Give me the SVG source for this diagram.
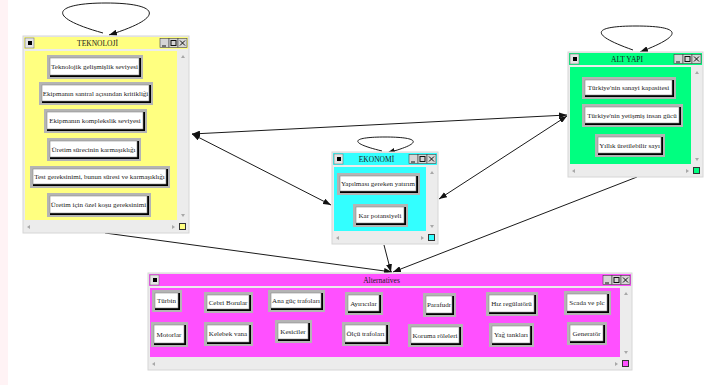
<svg xmlns="http://www.w3.org/2000/svg" width="705" height="385" viewBox="0 0 705 385">
<style>
.frame{fill:#ececec;stroke:#d6d6d6;stroke-width:1}
.yel{fill:#ffff80}.grn{fill:#00ff80}.cyn{fill:#33ffff}.mag{fill:#ff50ff}
.cs{stroke:#333;stroke-width:1}
.ic{fill:#e4e4e4;stroke:#777;stroke-width:.6}
.tb{fill:#d6d6d6;stroke:#444;stroke-width:.6}
.tg{stroke:#111;stroke-width:1;fill:none}
.sa{fill:#a8a8a8}
.bf{fill:#b4b4b4}.bs{fill:#000}.bw{fill:#fff;stroke:#8c8c8c;stroke-width:.6}
text{font-family:"Liberation Serif","Times New Roman",serif;fill:#222}
.bt{font-size:7px;text-anchor:middle}
.tt{font-size:7.5px;text-anchor:middle;fill:#1a1a1a}
.edge{stroke:#1a1a1a;stroke-width:1;fill:none}
</style>
<defs>
<marker id="ah" viewBox="0 0 8 6" refX="8" refY="3" markerWidth="8" markerHeight="6" markerUnits="userSpaceOnUse" orient="auto-start-reverse"><path d="M0,0 L8,3 L0,6 z" fill="#111"/></marker>
</defs>
<rect x="0" y="0" width="705" height="385" fill="#fff"/>
<rect x="0" y="0" width="8" height="385" fill="#fff3f5"/>

<g id="connectors">
<path class="edge" d="M103,33 C42,16 56,3 106,3 C156,3 170,16 109,35" marker-end="url(#ah)"/>
<path class="edge" d="M633,50 C585,33 596,26 636,26 C676,26 690,33 640,52" marker-end="url(#ah)"/>
<path class="edge" d="M382,151 C345,142 354,137 385,137 C416,137 428,142 387,153" marker-end="url(#ah)"/>
<line class="edge" x1="192" y1="134" x2="567" y2="115" marker-start="url(#ah)" marker-end="url(#ah)"/>
<line class="edge" x1="192" y1="134" x2="331" y2="205" marker-start="url(#ah)" marker-end="url(#ah)"/>
<line class="edge" x1="567" y1="116" x2="439" y2="199" marker-start="url(#ah)" marker-end="url(#ah)"/>
<line class="edge" x1="105" y1="233" x2="392" y2="272" marker-end="url(#ah)"/>
<line class="edge" x1="384" y1="245" x2="391" y2="272" marker-end="url(#ah)"/>
<line class="edge" x1="637" y1="177" x2="393" y2="272" marker-end="url(#ah)"/>
</g>

<g id="teknoloji">
<rect class="frame" x="23" y="36" width="166" height="197"/>
<rect class="yel" x="24" y="37" width="164" height="12"/>
<rect class="yel" x="25" y="51" width="152" height="169"/>
<rect class="yel cs" x="179.5" y="223.5" width="6" height="6"/>
<rect class="ic" x="25" y="38" width="9" height="10"/><rect x="28" y="41" width="4" height="4" fill="#000"/>
<rect class="tb" x="160" y="38.5" width="9" height="9"/><line class="tg" x1="162" y1="46" x2="166" y2="46"/>
<rect class="tb" x="169" y="38.5" width="9" height="9"/><rect class="tg" x="171" y="40.5" width="5" height="5"/>
<rect class="tb" x="178" y="38.5" width="9" height="9"/><path class="tg" d="M180,40.5 L185,45.5 M185,40.5 L180,45.5"/>
<text class="tt" x="97.5" y="46">TEKNOLOJİ</text>
<polygon class="sa" points="181,58 185,58 183,55"/><polygon class="sa" points="181,214 185,214 183,217"/>
<polygon class="sa" points="30,225 30,229 27,227"/><polygon class="sa" points="172,225 172,229 175,227"/>
<g id="t1"><rect class="bf" x="47" y="55" width="96" height="24"/><rect class="bs" x="50" y="58" width="91" height="19"/><rect class="bw" x="50" y="58" width="89" height="17"/><text class="bt" x="94.5" y="69">Teknolojik gelişmişlik seviyesi</text></g>
<g id="t2"><rect class="bf" x="39" y="82" width="114" height="23"/><rect class="bs" x="42" y="85" width="109" height="18"/><rect class="bw" x="42" y="85" width="107" height="16"/><text class="bt" x="95.5" y="95.5">Ekipmanın santral açısından kritikliği</text></g>
<g id="t3"><rect class="bf" x="44" y="109" width="103" height="24"/><rect class="bs" x="47" y="112" width="98" height="19"/><rect class="bw" x="47" y="112" width="96" height="17"/><text class="bt" x="95" y="123">Ekipmanın komplekslik seviyesi</text></g>
<g id="t4"><rect class="bf" x="47" y="138" width="94" height="23"/><rect class="bs" x="50" y="141" width="89" height="18"/><rect class="bw" x="50" y="141" width="87" height="16"/><text class="bt" x="93.5" y="151.5">Üretim sürecinin karmaşıklığı</text></g>
<g id="t5"><rect class="bf" x="30" y="166" width="140" height="22"/><rect class="bs" x="33" y="169" width="135" height="17"/><rect class="bw" x="33" y="169" width="133" height="15"/><text class="bt" x="99.5" y="179">Test gereksinimi, bunun süresi ve karmaşıklığı</text></g>
<g id="t6"><rect class="bf" x="47" y="193" width="104" height="24"/><rect class="bs" x="50" y="196" width="99" height="19"/><rect class="bw" x="50" y="196" width="97" height="17"/><text class="bt" x="98.5" y="207">Üretim için özel koşu gereksinimi</text></g>
</g>

<g id="altyapi">
<rect class="frame" x="568" y="52" width="135" height="125"/>
<rect class="grn" x="569" y="53" width="133" height="12"/>
<rect class="grn" x="570" y="67" width="121" height="97"/>
<rect class="grn cs" x="693.5" y="167.5" width="6" height="6"/>
<rect class="ic" x="570" y="54" width="9" height="10"/><rect x="573" y="57" width="4" height="4" fill="#000"/>
<rect class="tb" x="674" y="54.5" width="9" height="9"/><line class="tg" x1="676" y1="62" x2="680" y2="62"/>
<rect class="tb" x="683" y="54.5" width="9" height="9"/><rect class="tg" x="685" y="56.5" width="5" height="5"/>
<rect class="tb" x="692" y="54.5" width="9" height="9"/><path class="tg" d="M694,56.5 L699,61.5 M699,56.5 L694,61.5"/>
<text class="tt" x="627" y="62">ALT YAPI</text>
<polygon class="sa" points="695,74 699,74 697,71"/><polygon class="sa" points="695,158 699,158 697,161"/>
<polygon class="sa" points="575,169 575,173 572,171"/><polygon class="sa" points="686,169 686,173 689,171"/>
<g id="a1"><rect class="bf" x="582" y="77" width="94" height="22"/><rect class="bs" x="585" y="80" width="89" height="17"/><rect class="bw" x="585" y="80" width="87" height="15"/><text class="bt" x="628.5" y="90">Türkiye'nin sanayi kapasitesi</text></g>
<g id="a2"><rect class="bf" x="582" y="104" width="101" height="23"/><rect class="bs" x="585" y="107" width="96" height="18"/><rect class="bw" x="585" y="107" width="94" height="16"/><text class="bt" x="632" y="117.5">Türkiye'nin yetişmiş insan gücü</text></g>
<g id="a3"><rect class="bf" x="595" y="134" width="70" height="23"/><rect class="bs" x="598" y="137" width="65" height="18"/><rect class="bw" x="598" y="137" width="63" height="16"/><text class="bt" x="629.5" y="147.5">Yıllık üretilebilir sayı</text></g>
</g>

<g id="ekonomi">
<rect class="frame" x="332" y="152" width="106" height="92"/>
<rect class="cyn" x="333" y="153" width="104" height="12"/>
<rect class="cyn" x="334" y="167" width="92" height="64"/>
<rect class="cyn cs" x="428.5" y="234.5" width="6" height="6"/>
<rect class="ic" x="334" y="154" width="9" height="10"/><rect x="337" y="157" width="4" height="4" fill="#000"/>
<rect class="tb" x="409" y="154.5" width="9" height="9"/><line class="tg" x1="411" y1="162" x2="415" y2="162"/>
<rect class="tb" x="418" y="154.5" width="9" height="9"/><rect class="tg" x="420" y="156.5" width="5" height="5"/>
<rect class="tb" x="427" y="154.5" width="9" height="9"/><path class="tg" d="M429,156.5 L434,161.5 M434,156.5 L429,161.5"/>
<text class="tt" x="376.5" y="162">EKONOMİ</text>
<polygon class="sa" points="430,174 434,174 432,171"/><polygon class="sa" points="430,225 434,225 432,228"/>
<polygon class="sa" points="339,236 339,240 336,238"/><polygon class="sa" points="421,236 421,240 424,238"/>
<g id="e1"><rect class="bf" x="337" y="173" width="83" height="22"/><rect class="bs" x="340" y="176" width="78" height="17"/><rect class="bw" x="340" y="176" width="76" height="15"/><text class="bt" x="378" y="186">Yapılması gereken yatırım</text></g>
<g id="e2"><rect class="bf" x="353" y="204" width="55" height="23"/><rect class="bs" x="356" y="207" width="50" height="18"/><rect class="bw" x="356" y="207" width="48" height="16"/><text class="bt" x="380" y="217.5">Kar potansiyeli</text></g>
</g>

<g id="alternatives">
<rect class="frame" x="148" y="273" width="484" height="97"/>
<rect class="mag" x="149" y="274" width="482" height="12"/>
<rect class="mag" x="150" y="288" width="470" height="69"/>
<rect class="mag cs" x="622.5" y="360.5" width="6" height="6"/>
<rect class="ic" x="150" y="275" width="9" height="10"/><rect x="153" y="278" width="4" height="4" fill="#000"/>
<rect class="tb" x="603" y="275.5" width="9" height="9"/><line class="tg" x1="605" y1="283" x2="609" y2="283"/>
<rect class="tb" x="612" y="275.5" width="9" height="9"/><rect class="tg" x="614" y="277.5" width="5" height="5"/>
<rect class="tb" x="621" y="275.5" width="9" height="9"/><path class="tg" d="M623,277.5 L628,282.5 M628,277.5 L623,282.5"/>
<text class="tt" x="381.5" y="283">Alternatives</text>
<polygon class="sa" points="624,295 628,295 626,292"/><polygon class="sa" points="624,351 628,351 626,354"/>
<polygon class="sa" points="155,362 155,366 152,364"/><polygon class="sa" points="615,362 615,366 618,364"/>
<g id="n-turbin"><rect class="bf" x="152" y="290" width="30" height="22"/><rect class="bs" x="155" y="293" width="25" height="17"/><rect class="bw" x="155" y="293" width="23" height="15"/><text class="bt" x="166.5" y="303">Türbin</text></g>
<g id="n-cebri"><rect class="bf" x="204" y="292" width="49" height="21"/><rect class="bs" x="207" y="295" width="44" height="16"/><rect class="bw" x="207" y="295" width="42" height="14"/><text class="bt" x="228" y="304.5">Cebri Borular</text></g>
<g id="n-anaguc"><rect class="bf" x="268" y="290" width="57" height="22"/><rect class="bs" x="271" y="293" width="52" height="17"/><rect class="bw" x="271" y="293" width="50" height="15"/><text class="bt" x="296" y="303">Ana güç trafoları</text></g>
<g id="n-ayirici"><rect class="bf" x="345" y="292" width="38" height="23"/><rect class="bs" x="348" y="295" width="33" height="18"/><rect class="bw" x="348" y="295" width="31" height="16"/><text class="bt" x="363.5" y="305.5">Ayırıcılar</text></g>
<g id="n-parafudr"><rect class="bf" x="423" y="293" width="33" height="24"/><rect class="bs" x="426" y="296" width="28" height="19"/><rect class="bw" x="426" y="296" width="26" height="17"/><text class="bt" x="439" y="307">Parafudr</text></g>
<g id="n-hiz"><rect class="bf" x="486" y="292" width="52" height="24"/><rect class="bs" x="489" y="295" width="47" height="19"/><rect class="bw" x="489" y="295" width="45" height="17"/><text class="bt" x="511.5" y="306">Hız regülatörü</text></g>
<g id="n-scada"><rect class="bf" x="564" y="291" width="47" height="24"/><rect class="bs" x="567" y="294" width="42" height="19"/><rect class="bw" x="567" y="294" width="40" height="17"/><text class="bt" x="587" y="305">Scada ve plc</text></g>
<g id="n-motor"><rect class="bf" x="151" y="322" width="37" height="25"/><rect class="bs" x="154" y="325" width="32" height="20"/><rect class="bw" x="154" y="325" width="30" height="18"/><text class="bt" x="169" y="336.5">Motorlar</text></g>
<g id="n-kelebek"><rect class="bf" x="204" y="322" width="49" height="24"/><rect class="bs" x="207" y="325" width="44" height="19"/><rect class="bw" x="207" y="325" width="42" height="17"/><text class="bt" x="228" y="336">Kelebek vana</text></g>
<g id="n-kesici"><rect class="bf" x="275" y="320" width="37" height="23"/><rect class="bs" x="278" y="323" width="32" height="18"/><rect class="bw" x="278" y="323" width="30" height="16"/><text class="bt" x="293" y="333.5">Kesiciler</text></g>
<g id="n-olcu"><rect class="bf" x="342" y="322" width="48" height="24"/><rect class="bs" x="345" y="325" width="43" height="19"/><rect class="bw" x="345" y="325" width="41" height="17"/><text class="bt" x="365.5" y="336">Ölçü trafoları</text></g>
<g id="n-koruma"><rect class="bf" x="408" y="324" width="55" height="23"/><rect class="bs" x="411" y="327" width="50" height="18"/><rect class="bw" x="411" y="327" width="48" height="16"/><text class="bt" x="435" y="337.5">Koruma röleleri</text></g>
<g id="n-yag"><rect class="bf" x="489" y="323" width="45" height="24"/><rect class="bs" x="492" y="326" width="40" height="19"/><rect class="bw" x="492" y="326" width="38" height="17"/><text class="bt" x="511" y="337">Yağ tankları</text></g>
<g id="n-generator"><rect class="bf" x="567" y="322" width="40" height="23"/><rect class="bs" x="570" y="325" width="35" height="18"/><rect class="bw" x="570" y="325" width="33" height="16"/><text class="bt" x="586.5" y="335.5">Generatör</text></g>
</g>
</svg>
